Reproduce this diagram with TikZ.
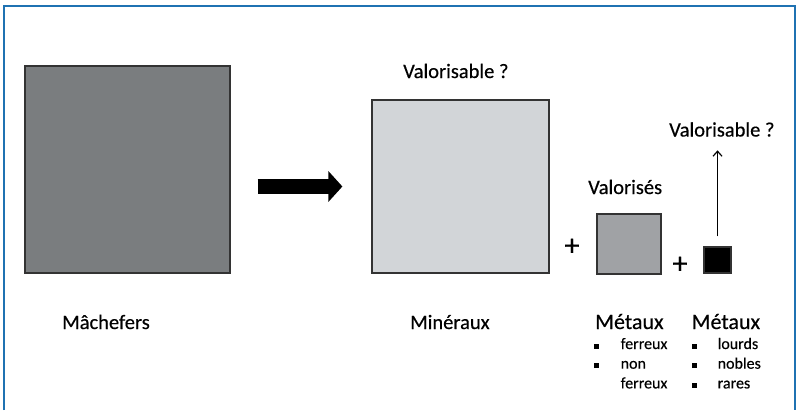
\documentclass[tikz,border=0pt]{standalone}
\usepackage{fontspec}
\setmainfont{Carlito}[FakeBold=0.4]
\usetikzlibrary{arrows.meta}
\definecolor{cadre}{RGB}{31,114,178}
\definecolor{grisfonce}{RGB}{122,125,127}
\definecolor{grisclair}{RGB}{210,213,216}
\definecolor{grismoyen}{RGB}{160,162,165}
\def\puce{\rule[0.5pt]{5pt}{5pt}}

\begin{document}
\begin{tikzpicture}[x=1pt, y=-1pt,
	boite/.style={draw=black!80, line width=1.2pt, inner sep=0pt},
	etiquette/.style={font=\fontsize{20.5}{24}\selectfont, inner sep=0pt, anchor=base west},
	metal/.style={font=\fontsize{22}{26}\selectfont, inner sep=0pt, anchor=base west},
	liste/.style={font=\fontsize{16}{19.7}\selectfont, inner sep=0pt, anchor=base west},
	plus/.style={font=\fontsize{30}{34}\selectfont, inner sep=0pt}]
			%%%%% START %%%%%
			
			\useasboundingbox (0,0) rectangle (797,410);
			\draw[cadre, line width=2pt] (3.7,410) -- (3.7,5.5) -- (794.5,5.5) -- (794.5,410);
			
			\node[boite, fill=grisfonce, minimum width=205pt, minimum height=207pt] (machefers) at (127.5,169.5) {};
			\node[boite, fill=grisclair, minimum width=177pt, minimum height=173pt] (mineraux) at (460.5,186.5) {};
			\node[boite, fill=grismoyen, minimum width=64pt, minimum height=60pt] (valorises) at (629,244) {};
			\node[boite, fill=black, minimum width=27pt, minimum height=26pt] (lourds) at (717.5,260) {};
			
			\node[plus] (plusa) at (572,247) {+};
			\node[plus] (plusb) at (680,265) {+};
			
			\node[etiquette] (lmachefers) at (62,329) {Mâchefers};
			\node[etiquette] (lmineraux) at (410,329) {Minéraux};
			\node[etiquette] (valoa) at (403,78) {Valorisable ?};
			\node[etiquette] (lvalorises) at (588,194) {Valorisés};
			\node[etiquette] (valob) at (669,136.5) {Valorisable ?};
			
			\node[metal] (metauxa) at (595,329) {Métaux};
			\node[metal] (metauxb) at (691.5,329) {Métaux};
			\node[liste] (listea) at (594,349) {\begin{tabular}[t]{@{}l@{\hspace{21.5pt}}l@{}}
				\puce & ferreux\\
				\puce & non\\
				 & ferreux
			\end{tabular}};
			\node[liste] (listeb) at (692,349) {\begin{tabular}[t]{@{}l@{\hspace{20.5pt}}l@{}}
				\puce & lourds\\
				\puce & nobles\\
				\puce & rares
			\end{tabular}};
			
			\draw[line width=15pt, -{Triangle[length=14pt, width=30pt]}, shorten <=27pt, shorten >=29pt] (machefers.east |- mineraux.west) -- (mineraux.west);
			\draw[line width=1.2pt, -{Straight Barb[length=5pt, width=9pt]}, shorten <=10pt, shorten >=13.5pt] (lourds.north) -- (lourds.north |- valob.south);
			
			%%%%% END %%%%%
\end{tikzpicture}
\end{document}
